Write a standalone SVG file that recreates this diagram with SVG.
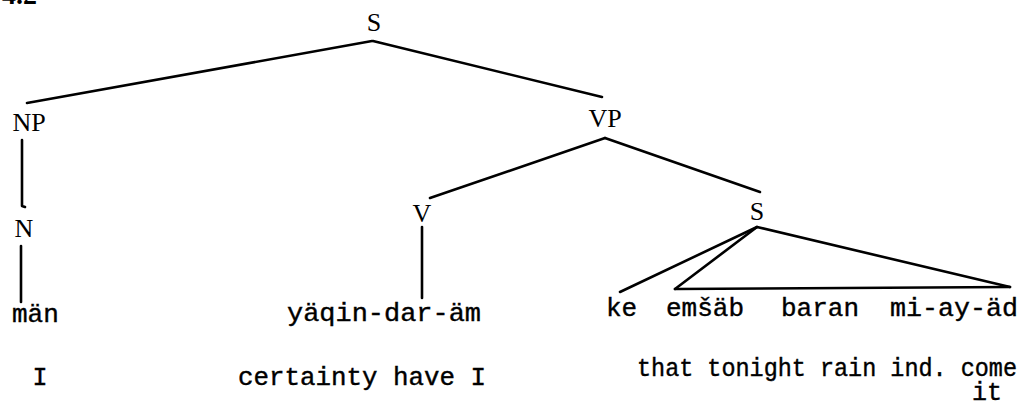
<svg xmlns="http://www.w3.org/2000/svg" width="1028" height="409" viewBox="0 0 1028 409">
<style>
.lbl{font-family:"Liberation Serif","Times New Roman",serif;font-size:26px;fill:#000;text-anchor:middle}
.tw{font-family:"Liberation Mono","Courier New",monospace;font-size:26px;fill:#000;stroke:#000;stroke-width:0.4}
.gl{font-family:"Liberation Mono","Courier New",monospace;font-size:25px;fill:#000;stroke:#000;stroke-width:0.4}
.e{stroke:#000;stroke-width:2.6;fill:none;stroke-linecap:round;stroke-linejoin:round}
</style>
<rect width="1028" height="409" fill="#fff"/>
<text x="2" y="4" style="font-family:'Liberation Serif',serif;font-size:28px;font-weight:bold">4.2</text>
<g id="connectors">
<line class="e" x1="372" y1="41" x2="27" y2="103"/>
<line class="e" x1="373" y1="41" x2="602" y2="97"/>
<path class="e" d="M22,140 L22,206 L25,207"/>
<line class="e" x1="21" y1="246" x2="21" y2="302"/>
<line class="e" x1="605" y1="138" x2="430" y2="198"/>
<line class="e" x1="605" y1="138" x2="760" y2="192"/>
<line class="e" x1="422" y1="227" x2="422" y2="298"/>
<line class="e" x1="757" y1="227" x2="620" y2="292"/>
<line class="e" x1="757" y1="227" x2="675" y2="289"/>
<line class="e" x1="757" y1="227" x2="1010" y2="287"/>
<line class="e" x1="675" y1="289" x2="1010" y2="287"/>
</g>
<g id="node-S"><text class="lbl" x="374" y="31">S</text></g>
<g id="node-NP"><text class="lbl" x="29" y="131">NP</text></g>
<g id="node-VP"><text class="lbl" x="605" y="127">VP</text></g>
<g id="node-N"><text class="lbl" x="24" y="237">N</text></g>
<g id="node-V"><text class="lbl" x="422" y="222">V</text></g>
<g id="node-S2"><text class="lbl" x="757" y="220">S</text></g>
<g id="node-man"><text class="tw" x="12" y="322">män</text></g>
<g id="node-yaqin"><text class="tw" x="287" y="321" textLength="194" lengthAdjust="spacingAndGlyphs">yäqin-dar-äm</text></g>
<g id="node-ke"><text class="tw" x="606" y="316">ke</text></g>
<g id="node-emsab"><text class="tw" x="666" y="316">emšäb</text></g>
<g id="node-baran"><text class="tw" x="781" y="316">baran</text></g>
<g id="node-miayad"><text class="tw" x="890" y="316" textLength="128" lengthAdjust="spacingAndGlyphs">mi-ay-äd</text></g>
<g id="gloss">
<text class="gl" x="40" y="385" text-anchor="middle">I</text>
<text class="gl" x="238" y="385" textLength="248" lengthAdjust="spacingAndGlyphs">certainty have I</text>
<text class="gl" x="637" y="376" textLength="380" lengthAdjust="spacingAndGlyphs">that tonight rain ind. come</text>
<text class="gl" x="972" y="400">it</text>
</g>
</svg>
